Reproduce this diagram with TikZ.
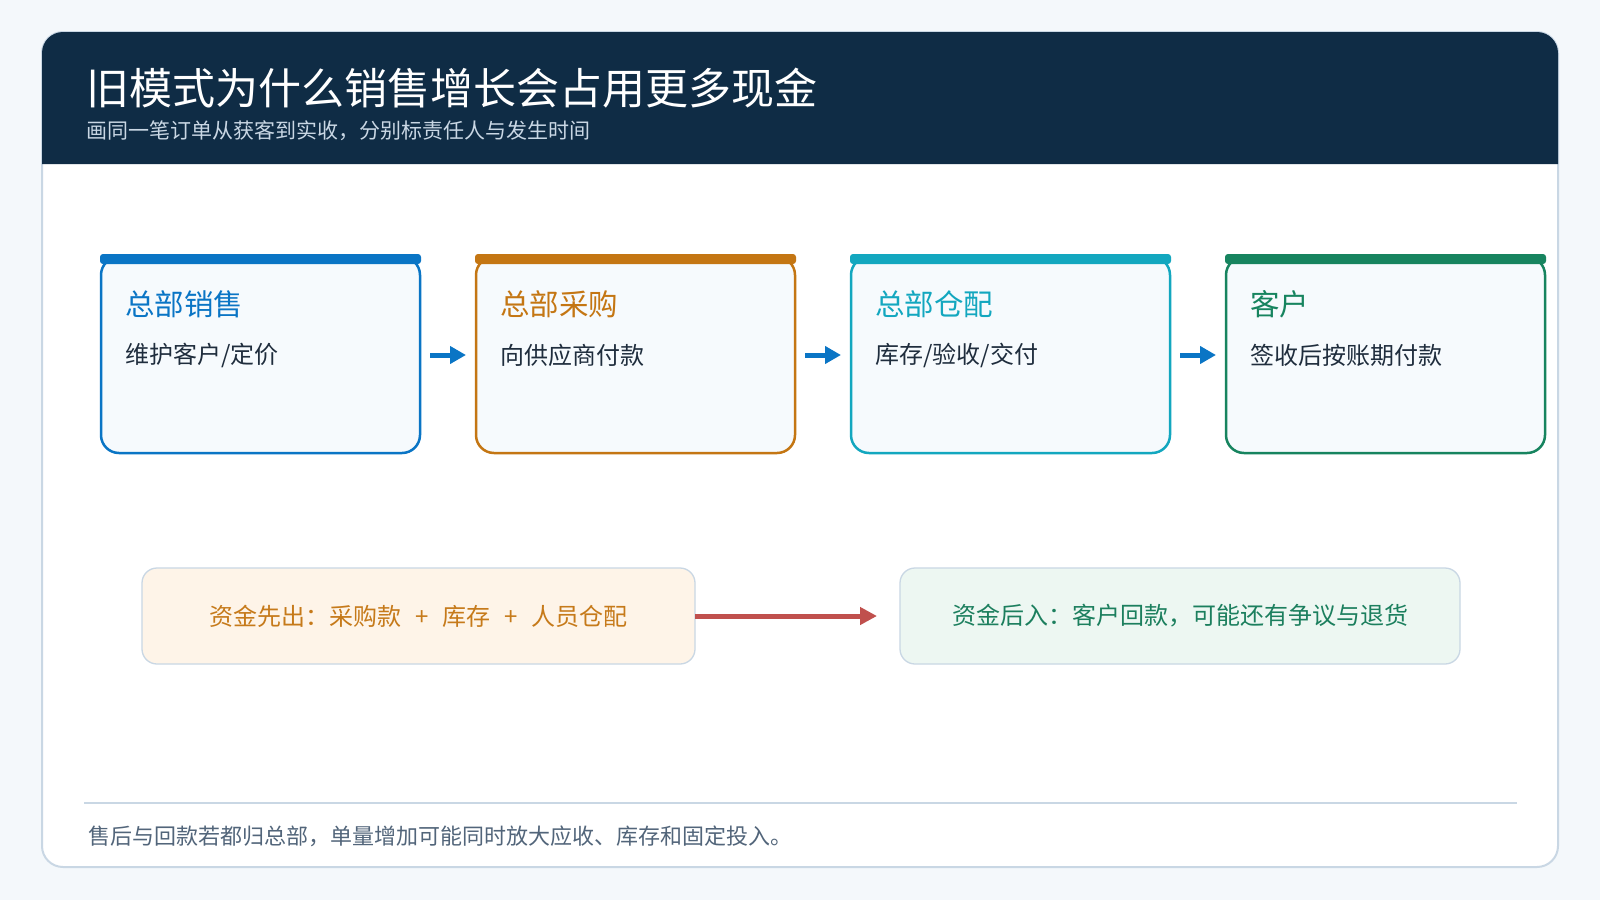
\documentclass[tikz,border=0pt]{standalone}
\usepackage{fontspec}
\setmainfont{Noto Sans CJK SC}
\usetikzlibrary{arrows.meta,calc}
\definecolor{pagebg}{HTML}{F4F8FB}
\definecolor{hdr}{HTML}{0F2C45}
\definecolor{cardline}{HTML}{C9D7E4}
\definecolor{cblue}{HTML}{0A75C5}
\definecolor{corange}{HTML}{C47613}
\definecolor{cteal}{HTML}{13A7BF}
\definecolor{cgreen}{HTML}{17845F}
\definecolor{bodytxt}{HTML}{1F2D3D}
\definecolor{subtxt}{HTML}{C9D7E4}
\definecolor{foottxt}{HTML}{52657A}
\definecolor{boxfill}{HTML}{F6FAFD}
\definecolor{outfill}{HTML}{FEF4E8}
\definecolor{outtxt}{HTML}{C67A1A}
\definecolor{infill}{HTML}{EDF7F2}
\definecolor{intxt}{HTML}{1C7F5E}
\definecolor{redarrow}{HTML}{C0504D}
\tikzset{
  stepbox/.style={draw=#1, line width=2.5pt, rounded corners=18pt, fill=boxfill,
    minimum width=319pt, minimum height=196pt, inner sep=0pt, outer sep=0pt},
  boxtitle/.style={anchor=west, inner sep=0pt, text=#1, font=\fontsize{29.5}{34}\selectfont},
  boxbody/.style={anchor=west, inner sep=0pt, text=bodytxt, font=\fontsize{24}{28}\selectfont},
  flowarrow/.style={draw=cblue, line width=5pt, -{Triangle[length=16pt,width=17pt]}},
  cashbox/.style={draw=cardline, line width=1.3pt, rounded corners=15pt, fill=#1,
    minimum height=96pt, inner sep=0pt, outer sep=0pt},
  cashtxt/.style={text=#1, font=\fontsize{24}{28}\selectfont},
}
\newcommand{\plussep}{\hspace{0.57em}+\hspace{0.57em}}
\begin{document}
\begin{tikzpicture}[x=1pt,y=-1pt]
\useasboundingbox (0,0) rectangle (1600,900);
\fill[pagebg] (0,0) rectangle (1600,900);
% card
\draw[cardline, line width=2pt, fill=white, rounded corners=21pt] (42,32) rectangle (1558,867);
% header
\fill[hdr] (42,164) -- (42,53) arc[start angle=180, end angle=90, radius=21pt] -- (1537,32)
  arc[start angle=90, end angle=0, radius=21pt] -- (1558,164) -- cycle;
\node[anchor=west, inner sep=0pt, text=white, font=\fontsize{43}{50}\selectfont] (title) at (86,88.5) {旧模式为什么销售增长会占用更多现金};
\node[anchor=west, inner sep=0pt, text=subtxt, font=\fontsize{21}{25}\selectfont] (subtitle) at (86,131) {画同一笔订单从获客到实收，分别标责任人与发生时间};

% step boxes
\foreach \i/\c/\t/\b in {1/cblue/总部销售/{维护客户/定价}, 2/corange/总部采购/{向供应商付款}, 3/cteal/总部仓配/{库存/验收/交付}, 4/cgreen/客户/{签收后按账期付款}}{
  \node[stepbox=\c] (b\i) at ({101+375*(\i-1)+159.5},355) {};
  \fill[\c, rounded corners=3pt] ([xshift=-1pt,yshift=3pt]b\i.north west) rectangle ([xshift=1pt,yshift=-7pt]b\i.north east);
  \node[boxtitle=\c] (t\i) at ($(b\i.north west)+(24,47.5)$) {\t};
  \node[boxbody] (d\i) at ($(b\i.north west)+(24,98.5)$) {\b};
}
\draw[flowarrow, shorten <=10pt, shorten >=10pt] (b1.east) -- (b2.west);
\draw[flowarrow, shorten <=10pt, shorten >=10pt] (b2.east) -- (b3.west);
\draw[flowarrow, shorten <=10pt, shorten >=10pt] (b3.east) -- (b4.west);

% cash boxes
\node[cashbox=outfill, minimum width=553pt] (cout) at (418.5,616) {};
\node[cashtxt=outtxt] (couttxt) at (cout.center) {资金先出：采购款\plussep 库存\plussep 人员仓配};
\node[cashbox=infill, minimum width=560pt] (cin) at (1180,616) {};
\node[cashtxt=intxt] (cintxt) at (cin.center) {资金后入：客户回款，可能还有争议与退货};
\draw[redarrow, line width=5pt, -{Triangle[length=17pt,width=17pt]}, shorten >=23pt] (cout.east) -- (cin.west);

% footer
\coordinate (fl) at (84,803);
\coordinate (fr) at (1517,803);
\draw[cardline, line width=2pt] (fl) -- (fr);
\node[anchor=west, inner sep=0pt, text=foottxt, font=\fontsize{22}{26}\selectfont] (foot) at (88,836) {售后与回款若都归总部，单量增加可能同时放大应收、库存和固定投入。};
\end{tikzpicture}
\end{document}
